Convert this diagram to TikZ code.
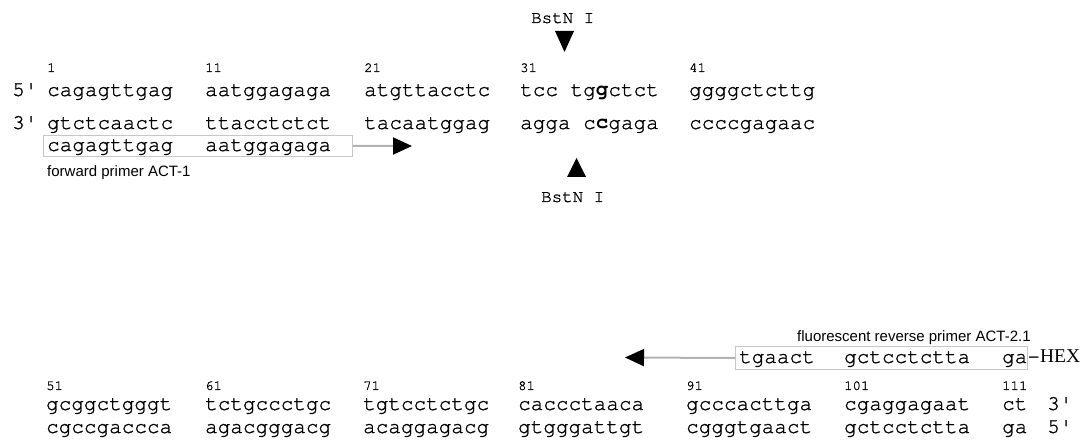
\documentclass[tikz,border=0pt]{standalone}
\usepackage{fontspec}
\setmainfont{Liberation Serif}
\setmonofont{texgyrecursor}[Extension=.otf,UprightFont=*-regular,BoldFont=*-bold,UprightFeatures={FakeBold=1.2}]
\setsansfont{Liberation Sans}
\usetikzlibrary{arrows.meta}
\definecolor{boxgray}{gray}{0.78}
\definecolor{arrgray}{gray}{0.70}
\begin{document}
\begin{tikzpicture}[x=1bp,y=-1bp,
  seq/.style={anchor=base west,inner sep=0pt,font=\fontsize{21bp}{24bp}\selectfont\ttfamily},
  num/.style={anchor=base west,inner sep=0pt,font=\fontsize{14bp}{16bp}\selectfont\ttfamily},
  enz/.style={anchor=base west,inner sep=0pt,font=\fontsize{17.5bp}{20bp}\selectfont\ttfamily},
  lab/.style={anchor=base west,inner sep=0pt,font=\fontsize{15bp}{18bp}\selectfont\sffamily},
  pbox/.style={draw=boxgray,line width=1bp,anchor=north west,inner sep=0pt},
  parrow/.style={draw=arrgray,line width=2bp,-{Triangle[length=19bp,width=17bp,color=black]}},
  cutmark/.style={fill=black}
]
\useasboundingbox (0,0) rectangle (1081,440);

% ---------- top block ----------
\node[enz] (bst1) at (531,23) {BstN I};
\fill[cutmark] (555,31) -- (574,31) -- (564.5,52) -- cycle;

\node[num] (n1)  at (47,72)  {1};
\node[num] (n11) at (205,72) {11};
\node[num] (n21) at (364,72) {21};
\node[num] (n31) at (520,72) {31};
\node[num] (n41) at (689,72) {41};

\node[seq] (p5)  at (12,96)  {5'};
\node[seq] (a1)  at (47,96)  {cagagttgag};
\node[seq] (a2)  at (205,96) {aatggagaga};
\node[seq] (a3)  at (364,96) {atgttacctc};
\node[seq] (a4)  at (520,96) {tcc tg\textbf{g}ctct};
\node[seq] (a5)  at (689,96) {ggggctcttg};

\node[seq] (p3)  at (12,129)  {3'};
\node[seq] (b1)  at (47,129)  {gtctcaactc};
\node[seq] (b2)  at (205,129) {ttacctctct};
\node[seq] (b3)  at (364,129) {tacaatggag};
\node[seq] (b4)  at (520,129) {agga c\textbf{c}gaga};
\node[seq] (b5)  at (689,129) {ccccgagaac};

\node[pbox,minimum width=309bp,minimum height=21bp] (fbox) at (43,135) {};
\node[seq] (f1) at (47,151)  {cagagttgag};
\node[seq] (f2) at (205,151) {aatggagaga};
\coordinate (ftip) at (412,146);
\draw[parrow] (fbox.east) -- (ftip);
\node[lab] (flab) at (47,177) {forward primer ACT-1};

\fill[cutmark] (567,177) -- (586,177) -- (576.5,158) -- cycle;
\node[enz] (bst2) at (541,202) {BstN I};

% ---------- bottom block ----------
\node[lab] (rlab) at (797,342) {fluorescent reverse primer ACT-2.1};
\node[pbox,minimum width=292bp,minimum height=23bp] (rbox) at (735,346) {};
\node[seq] (r1) at (739,363)  {tgaact};
\node[seq] (r2) at (844,363)  {gctcctctta};
\node[seq] (r3) at (1002,363) {ga-{\rmfamily\fontsize{19.5bp}{22bp}\selectfont HEX}};
\coordinate (rtip) at (625,357.5);
\draw[parrow] (rbox.west) -- (rtip);

\node[num] (n51)  at (46,390)   {51};
\node[num] (n61)  at (205,390)  {61};
\node[num] (n71)  at (363,390)  {71};
\node[num] (n81)  at (518,390)  {81};
\node[num] (n91)  at (686,390)  {91};
\node[num] (n101) at (844,390)  {101};
\node[num] (n111) at (1002,390) {111};

\node[seq] (c1) at (46,410)   {gcggctgggt};
\node[seq] (c2) at (205,410)  {tctgccctgc};
\node[seq] (c3) at (363,410)  {tgtcctctgc};
\node[seq] (c4) at (518,410)  {caccctaaca};
\node[seq] (c5) at (686,410)  {gcccacttga};
\node[seq] (c6) at (844,410)  {cgaggagaat};
\node[seq] (c7) at (1002,410) {ct};
\node[seq] (q3) at (1047,410) {3'};

\node[seq] (d1) at (46,433)   {cgccgaccca};
\node[seq] (d2) at (205,433)  {agacgggacg};
\node[seq] (d3) at (363,433)  {acaggagacg};
\node[seq] (d4) at (518,433)  {gtgggattgt};
\node[seq] (d5) at (686,433)  {cgggtgaact};
\node[seq] (d6) at (844,433)  {gctcctctta};
\node[seq] (d7) at (1002,433) {ga};
\node[seq] (q5) at (1047,433) {5'};
\end{tikzpicture}
\end{document}
